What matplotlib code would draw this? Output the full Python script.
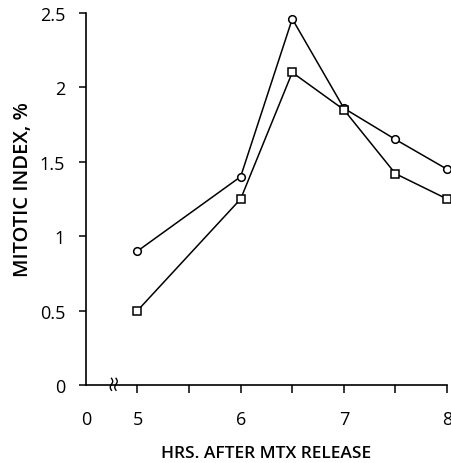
import numpy as np
import matplotlib
matplotlib.use("Agg")
import matplotlib.pyplot as plt

hours = [5, 6, 6.5, 7, 7.5, 8]
circle_vals = [0.90, 1.40, 2.46, 1.86, 1.65, 1.45]
square_vals = [0.50, 1.25, 2.10, 1.85, 1.42, 1.25]
xtick_pos = [4.5, 5, 6, 7, 8]
xtick_labels = ["0", "5", "6", "7", "8"]
yticks = [0, 0.5, 1, 1.5, 2, 2.5]
ytick_labels = ["0", "0.5", "1", "1.5", "2", "2.5"]

plt.rcParams['font.family'] = ['Open Sans', 'DejaVu Sans']
fig = plt.figure(figsize=(4.52, 4.64), dpi=100)
ax = fig.add_axes([0.190, 0.168, 0.799, 0.802])

ax.plot(hours, circle_vals, color='black', lw=1.1, marker='o', ms=5.5,
        mfc='white', mec='black', mew=1.1, clip_on=False, zorder=3)
ax.plot(hours, square_vals, color='black', lw=1.1, marker='s', ms=6,
        mfc='white', mec='black', mew=1.1, clip_on=False, zorder=3)

ax.set_xlim(4.5, 8)
ax.set_ylim(0, 2.5)
ax.set_xticks(xtick_pos)
ax.set_xticklabels(xtick_labels)
ax.set_xticks([5.5, 6.5, 7.5], minor=True)
ax.set_yticks(yticks)
ax.set_yticklabels(ytick_labels)

for s in ['top', 'right']:
    ax.spines[s].set_visible(False)
for s in ['left', 'bottom']:
    ax.spines[s].set_linewidth(1.2)

ax.tick_params(axis='y', which='major', direction='out', length=5, width=1.1,
               labelsize=13, pad=10)
ax.tick_params(axis='x', which='major', direction='out', length=6, width=1.1,
               labelsize=13, pad=12)
ax.tick_params(axis='x', which='minor', direction='out', length=6, width=1.1)
ax.xaxis.get_major_ticks()[0].tick1line.set_visible(False)

# axis break symbol
t = np.linspace(-1, 1, 30)
for off in (-0.022, 0.022):
    xs = 4.77 + off + 0.012 * np.sin(t * np.pi)
    ys = 0.005 + t * 0.04
    ax.plot(xs, ys, color='black', lw=1.0, clip_on=False, zorder=4)

ax.set_xlabel("HRS. AFTER MTX RELEASE", fontsize=12.5, fontweight='semibold',
              labelpad=12)
ax.set_ylabel("MITOTIC INDEX, %", fontsize=14.5, fontweight='semibold',
              labelpad=5)
ax.yaxis.label.set_y(0.527)

fig.savefig("out.png", dpi=100)
